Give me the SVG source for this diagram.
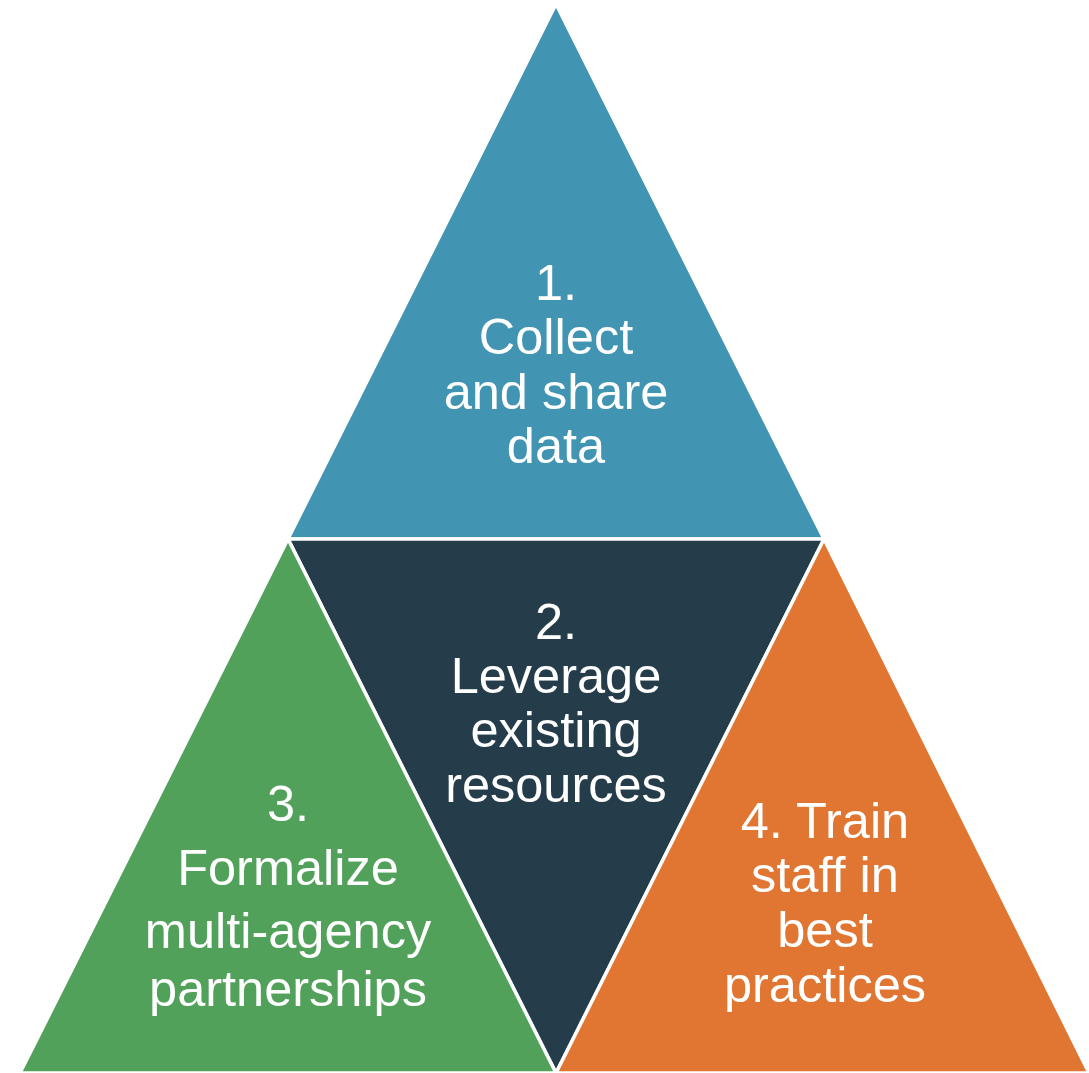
<svg xmlns="http://www.w3.org/2000/svg" width="1089" height="1073" viewBox="0 0 1089 1073">
<style>
.tri{stroke:#ffffff;stroke-width:3.5;stroke-linejoin:miter}
.lbl{font-family:"Liberation Sans",Arial,sans-serif;font-size:50.5px;fill:#ffffff;text-anchor:middle}
</style>
<rect width="1089" height="1073" fill="#ffffff"/>
<g id="node1">
<polygon class="tri" fill="#4195B2" points="556,4 288,539 824,539"/>
<text class="lbl"><tspan x="556" y="300">1.</tspan><tspan x="556" y="354">Collect</tspan><tspan x="556" y="409">and share</tspan><tspan x="556" y="463">data</tspan></text>
</g>
<g id="node2">
<polygon class="tri" fill="#253D4B" points="288,539 824,539 556,1073"/>
<text class="lbl"><tspan x="556" y="639">2.</tspan><tspan x="556" y="693">Leverage</tspan><tspan x="556" y="747">existing</tspan><tspan x="556" y="802">resources</tspan></text>
</g>
<g id="node3">
<polygon class="tri" fill="#52A15B" points="288,539 20,1073 556,1073"/>
<text class="lbl"><tspan x="288" y="821">3.</tspan><tspan x="288" y="885">Formalize</tspan><tspan x="288" y="948">multi-agency</tspan><tspan x="288" y="1006">partnerships</tspan></text>
</g>
<g id="node4">
<polygon class="tri" fill="#E07631" points="824,539 556,1073 1089,1073"/>
<text class="lbl"><tspan x="825" y="838">4. Train</tspan><tspan x="825" y="892">staff in</tspan><tspan x="825" y="947">best</tspan><tspan x="825" y="1002">practices</tspan></text>
</g>
<g id="connectors"></g>
</svg>
